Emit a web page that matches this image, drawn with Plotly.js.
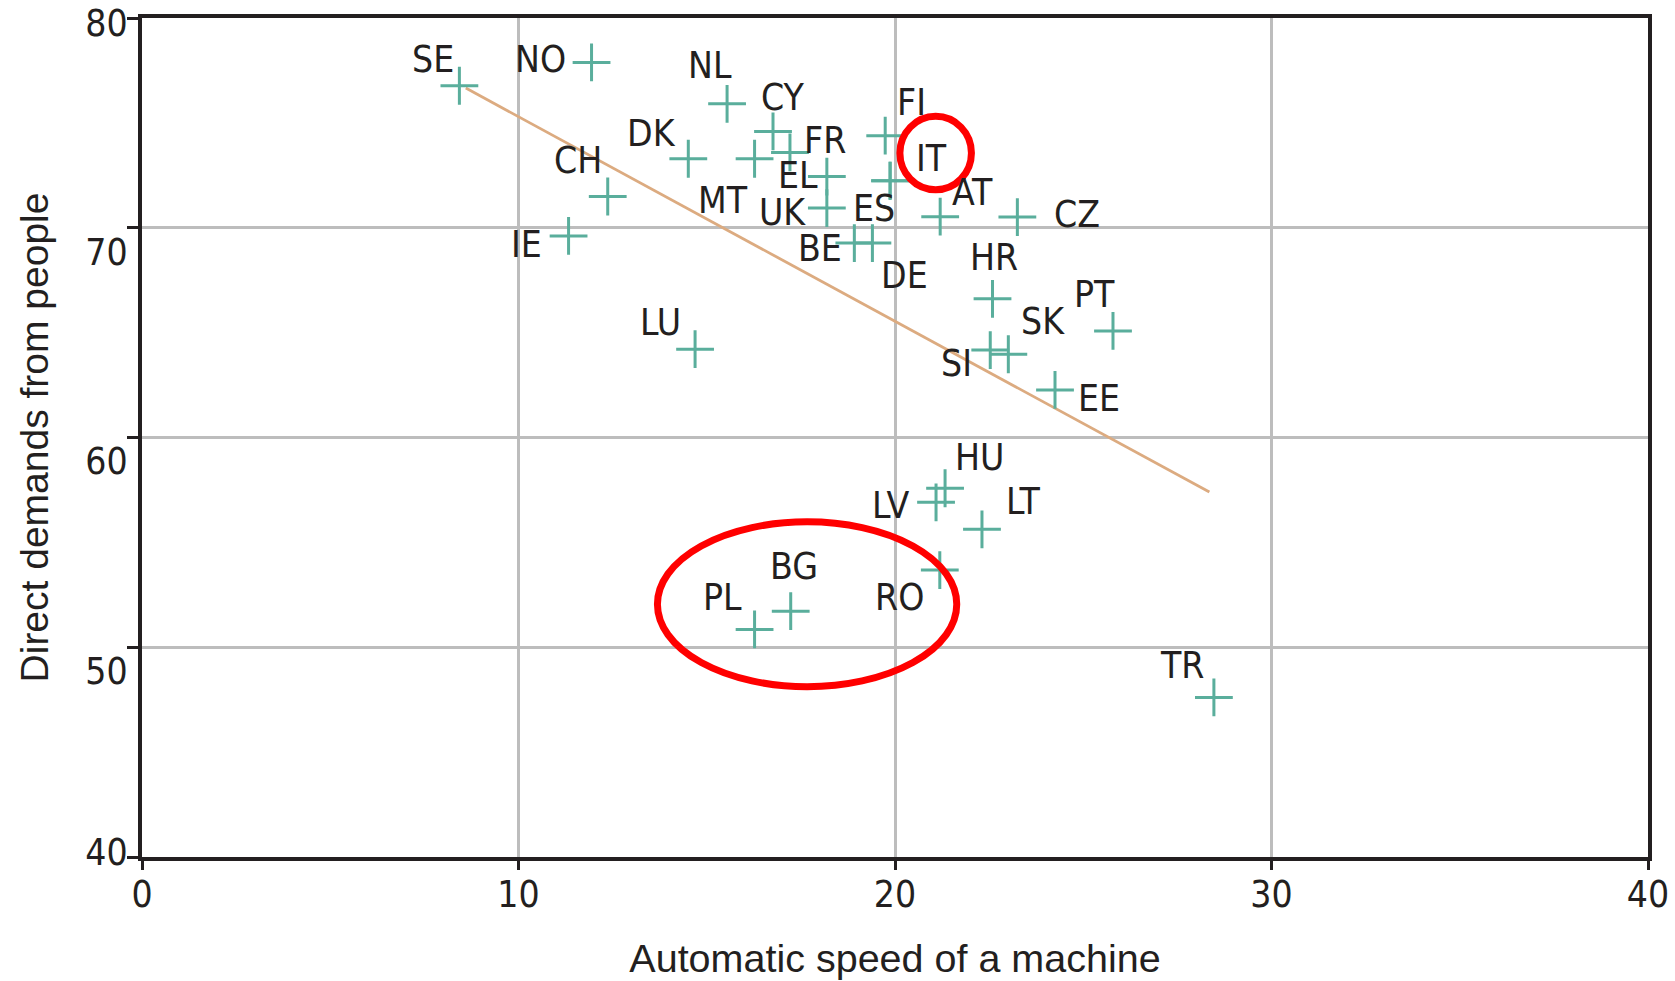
<!DOCTYPE html>
<html><head><meta charset="utf-8">
<script src="https://cdn.plot.ly/plotly-3.0.1.min.js"></script>
<style>html,body{margin:0;padding:0;background:#fff;} #chart{width:1675px;height:981px;}</style>
</head><body><div id="chart"></div>
<script>
// ---- data ----
const countries = ['SE','NO','NL','CY','DK','CH','FR','FI','IT','EL','MT','UK','ES','AT','CZ','IE','BE','DE','HR','LU','PT','SK','SI','EE','HU','LV','LT','BG','PL','RO','TR'];
const machineSpeed = [8.43,11.94,15.54,16.76,14.51,12.37,17.21,19.74,19.87,18.19,16.27,18.19,19.87,21.2,23.25,11.33,18.92,19.4,22.59,14.69,25.79,23.01,22.53,24.25,21.33,21.09,22.31,17.23,16.27,21.19,28.47];
const peopleDemands = [76.77,77.88,75.91,74.59,73.29,71.49,73.59,74.39,72.24,72.44,73.29,70.94,72.24,70.53,70.51,69.61,69.27,69.27,66.61,64.21,65.08,63.97,64.17,62.27,57.58,56.91,55.62,51.72,50.85,53.68,47.61];
const trendX = [8.6, 28.35];
const trendY = [76.66, 57.4];
const xTicks = [0,10,20,30,40];
const yTicks = [40,50,60,70,80];
const xTitle = 'Automatic speed of a machine';
const yTitle = 'Direct demands from people';

// ---- styling / label placement (pixels) ----
const labelDx = [-26,-51,-17.5,9.7,-36.4,-29.5,35.3,26,41,-29.2,-31.8,-44.2,-16,32,59.4,-42.4,-34,31.7,1.7,-34.3,-18.7,34.2,-33.3,44,34,-46,40.8,3,-32.5,-40.5,-32];
const labelDy = [-26,-3,-37.8,-33.5,-25.5,-36.5,-12.2,-32.7,-22,-0.9,41.3,4.7,27.6,-24.4,-2.6,9,5.7,32.7,-41,-26.5,-36.3,-32.6,13,9,-30.8,3.5,-27.6,-45,-31.5,27.5,-31.5];
// highlight ellipses in axis units [x0,x1,y0,y1]
const highlights = [[20.13,22.03,71.81,75.31],[13.69,21.64,48.12,55.98]];

const INK = '#231f20';
const NARROW = '"Liberation Sans Narrow", "DejaVu Sans Condensed", "Arial Narrow", sans-serif';
const SANS = '"Liberation Sans", Arial, sans-serif';

const traces = [
  {x: trendX, y: trendY, type:'scatter', mode:'lines', yaxis:'y2', line:{color:'#dcab80', width:2.8}, hoverinfo:'skip', showlegend:false},
  {x: machineSpeed, y: peopleDemands, text: countries, type:'scatter', mode:'markers', yaxis:'y3',
   marker:{symbol:'cross-thin-open', size:27, color:'#5aae9c', line:{color:'#5aae9c', width:3}},
   showlegend:false}
];

const annotations = countries.map((c,i)=>({
  x: machineSpeed[i], y: peopleDemands[i], xref:'x', yref:'y', text:c, showarrow:false,
  xshift: labelDx[i], yshift: -labelDy[i], xanchor:'center', yanchor:'middle',
  font:{family:NARROW, size:37, color:INK}
}));

const shapes = highlights.map(h=>({type:'circle', xref:'x', yref:'y', x0:h[0], x1:h[1], y0:h[2], y1:h[3],
  line:{color:'#ff0000', width:7}, layer:'above'}));

const axisCommon = {
  showgrid:true, gridcolor:'#bdbdbd', gridwidth:3, zeroline:false,
  showline:true, linecolor:INK, linewidth:4, mirror:true,
  ticks:'outside', tickcolor:INK, tickwidth:3,
  ticklabeloverflow:'allow',
  tickfont:{family:NARROW, size:37, color:INK}
};

// overlay axes used only to place individual tick labels like the reference
const overlayAxis = (vals, shift) => ({
  overlaying:'y', anchor:'x', side:'left', range:[40,80], tickvals: vals,
  showgrid:false, zeroline:false, showline:true, linewidth:4, linecolor:'rgba(0,0,0,0)',
  ticks:'outside', ticklen:11, tickwidth:3, tickcolor:'rgba(0,0,0,0)',
  ticklabelstandoff:-8, ticklabelshift:shift, ticklabeloverflow:'allow',
  tickfont:{family:NARROW, size:37, color:INK}
});

const layout = {
  width:1675, height:981,
  margin:{l:142, r:27, t:18, b:124},
  paper_bgcolor:'#fff', plot_bgcolor:'#fff',
  showlegend:false,
  xaxis: Object.assign({}, axisCommon, {
    range:[0,40], tickvals:xTicks, ticklen:9, ticklabelstandoff:-7,
    title:{text:xTitle, font:{family:SANS, size:39.5, color:INK}, standoff:30}
  }),
  yaxis: Object.assign({}, axisCommon, {
    range:[40,80], tickvals:yTicks, ticklen:11, ticklabelstandoff:-8, ticklabelshift:5,
    ticktext: yTicks.map(v => (v===80) ? String(v) : ''),
    title:{text:yTitle, font:{family:SANS, size:39, color:INK}, standoff:26}
  }),
  yaxis2: overlayAxis(yTicks.filter(v => v!==40 && v!==80), 24),
  yaxis3: overlayAxis(yTicks.filter(v => v===40), -5),
  annotations: annotations,
  shapes: shapes
};

Plotly.newPlot('chart', traces, layout, {displayModeBar:false, staticPlot:true});
</script>
</body></html>
